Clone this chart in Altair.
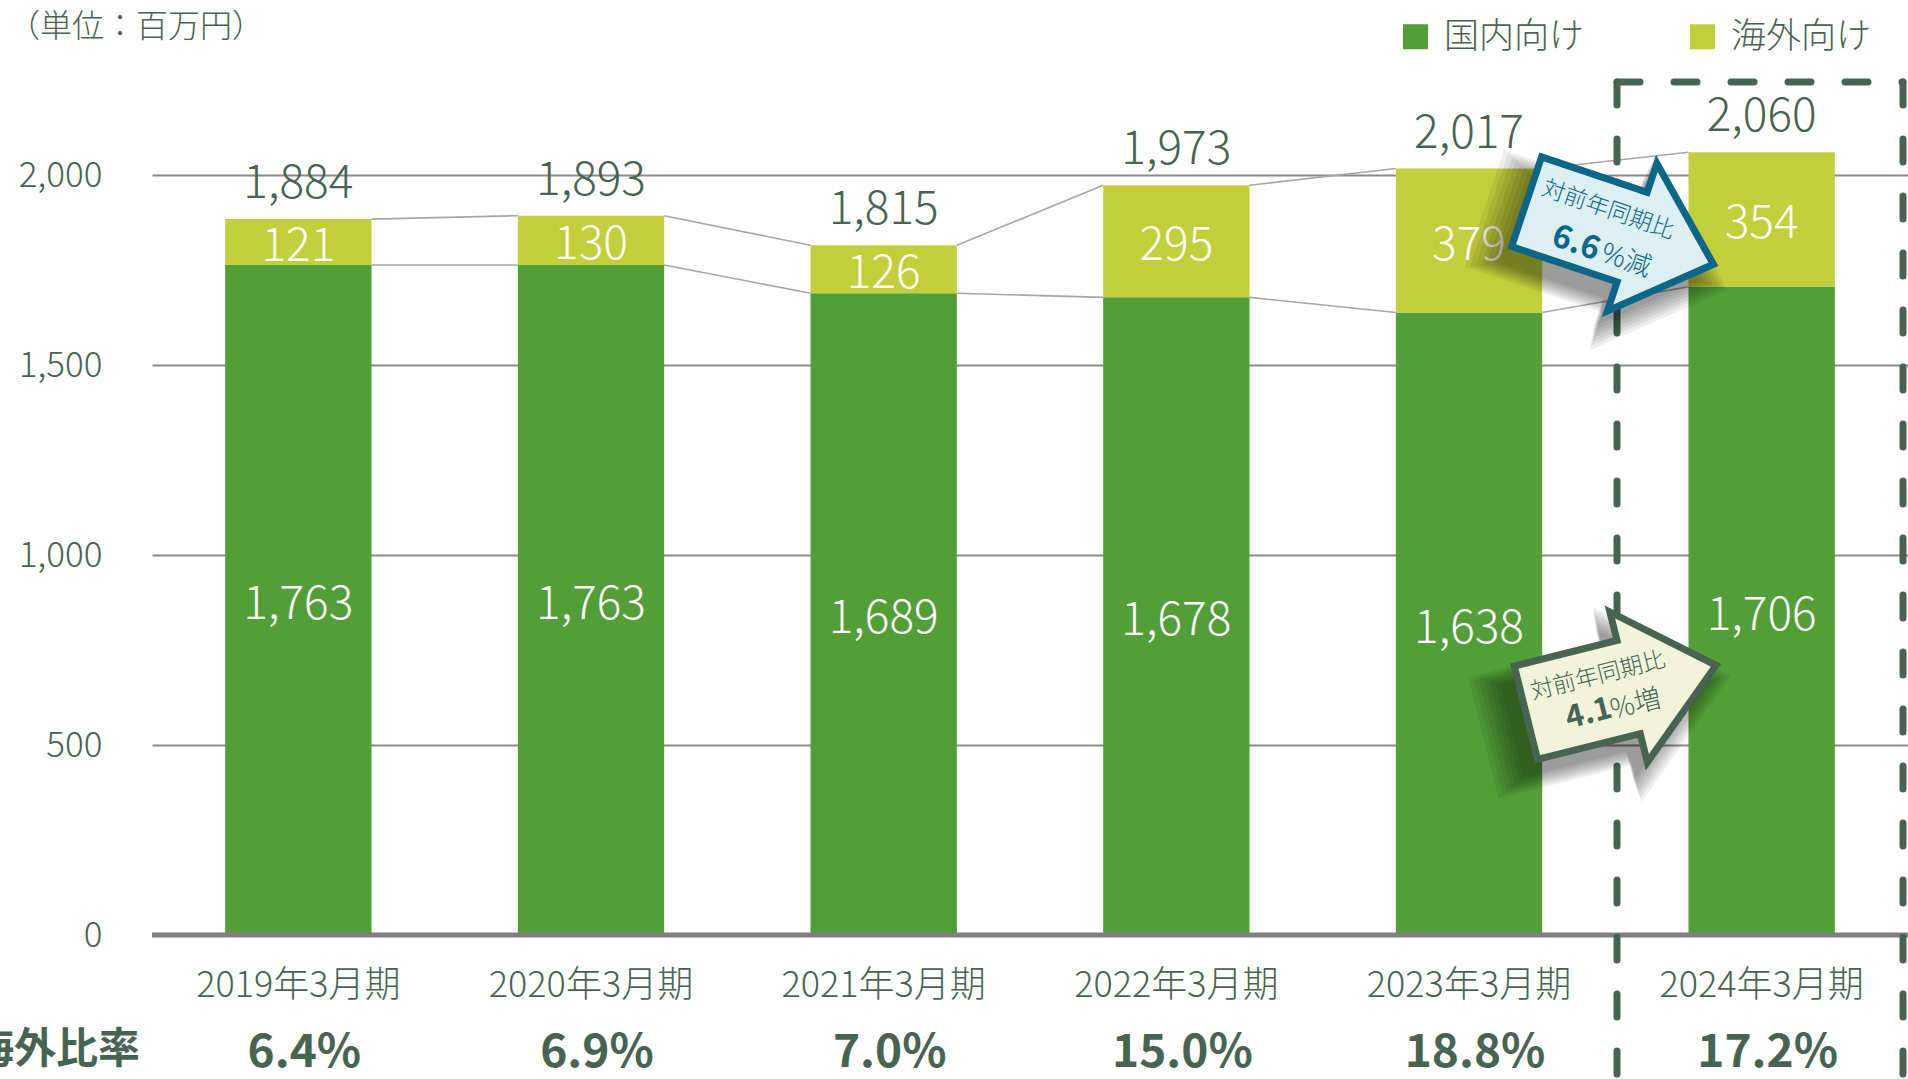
import altair as alt
import pandas as pd

# ---------------- data ----------------
periods = ["2019年3月期", "2020年3月期", "2021年3月期", "2022年3月期", "2023年3月期", "2024年3月期"]
domestic = [1763, 1763, 1689, 1678, 1638, 1706]
overseas = [121, 130, 126, 295, 379, 354]
totals = [1884, 1893, 1815, 1973, 2017, 2060]
ratios = ["6.4%", "6.9%", "7.0%", "15.0%", "18.8%", "17.2%"]
series_names = ["国内向け", "海外向け"]
series_colors = ["#529E37", "#C2CF3A"]
y_ticks = [0, 500, 1000, 1500, 2000]

unit_label = "（単位：百万円）"
ratio_title = "海外比率"
callout_down = ["対前年同期比", "6.6", "%減"]
callout_up = ["対前年同期比", "4.1", "%増"]

# ---------------- layout / style ----------------
FONT = "Noto Sans CJK JP"
TXT = "#476452"
LIGHT = 300
W, H = 1756, 912
PL, PT = 152, 23

long_rows = []
for i, p in enumerate(periods):
    long_rows.append({"period": p, "series": series_names[0], "value": domestic[i], "ord": 0})
    long_rows.append({"period": p, "series": series_names[1], "value": overseas[i], "ord": 1})
long_df = pd.DataFrame(long_rows)
wide_df = pd.DataFrame({"period": periods, "total": totals, "domestic": domestic, "ratio": ratios})
conn_df = pd.DataFrame({
    "period": periods[:-1], "next": periods[1:],
    "t0": totals[:-1], "t1": totals[1:],
    "d0": domestic[:-1], "d1": domestic[1:],
})
one = pd.DataFrame({"k": [0]})

x_scale = alt.Scale(domain=periods, paddingInner=0.5, paddingOuter=0.25)
x_axis = alt.Axis(title=None, labelAngle=0, labelFontSize=36, labelColor=TXT, labelFont=FONT,
                  labelFontWeight=LIGHT, labelLimit=0,
                  labelPadding=33, ticks=False, tickSize=0, domain=False, grid=False)
y_scale = alt.Scale(domain=[0, 2400], nice=False)
y_axis = alt.Axis(title=None, values=y_ticks, labelExpr="format(datum.value, ',')",
                  labelFontSize=35, labelColor=TXT, labelFontWeight=LIGHT,
                  labelFont=FONT, labelPadding=50, ticks=False, tickSize=0, domain=False,
                  grid=True, gridColor="#8a8a8a", gridWidth=2)


def X(field="period", **kw):
    return alt.X(f"{field}:N", scale=x_scale, axis=x_axis, **kw)


def Y(field):
    return alt.Y(f"{field}:Q", scale=y_scale, axis=y_axis)


stacked = alt.Chart(long_df).transform_stack(
    stack="value", groupby=["period"], as_=["y0", "y1"],
    sort=[alt.SortField("ord", order="ascending")],
)

bars = stacked.mark_bar().encode(
    x=X(),
    y=Y("y1"),
    y2=alt.Y2("y0:Q"),
    color=alt.Color(
        "series:N",
        scale=alt.Scale(domain=series_names, range=series_colors),
        legend=alt.Legend(orient="none", legendX=1246, legendY=-4, direction="horizontal",
                          title=None, symbolType="square", symbolSize=625, symbolStrokeWidth=0,
                          labelFontSize=35, labelColor=TXT, labelFont=FONT, labelOffset=11,
                          labelFontWeight=LIGHT,
                          columnPadding=100, padding=0, labelLimit=0),
    ),
    order=alt.Order("ord:Q"),
)

seg_labels = stacked.transform_calculate(mid="(datum.y0 + datum.y1) / 2").mark_text(
    color="white", fontSize=46, font=FONT, fontWeight=LIGHT, baseline="middle", dy=5
).encode(x=X(), y=Y("mid"), text=alt.Text("value:Q", format=","))

tot_labels = alt.Chart(wide_df).mark_text(
    color=TXT, fontSize=46, font=FONT, fontWeight=LIGHT, baseline="alphabetic", dy=-21
).encode(x=X(), y=Y("total"), text=alt.Text("total:Q", format=","))

conn_style = dict(color="#a6a6a6", strokeWidth=1.6)
conn_tot = alt.Chart(conn_df).mark_rule(**conn_style).encode(
    x=X(bandPosition=1), x2=alt.X2("next:N", bandPosition=0), y=Y("t0"), y2=alt.Y2("t1:Q"))
conn_dom = alt.Chart(conn_df).mark_rule(**conn_style).encode(
    x=X(bandPosition=1), x2=alt.X2("next:N", bandPosition=0), y=Y("d0"), y2=alt.Y2("d1:Q"))

zero = alt.Chart(one).mark_rule(color="#808080", strokeWidth=5).encode(
    y=alt.YDatum(0, scale=y_scale, axis=y_axis), x=alt.value(0), x2=alt.value(W))

pct = alt.Chart(wide_df).mark_text(
    color=TXT, fontSize=46, fontWeight="bold", font=FONT, baseline="middle", dx=6
).encode(x=X(), y=alt.value(1053 - PT), text="ratio:N")

title_txt = alt.Chart(one).mark_text(
    text=unit_label, color=TXT, fontSize=32, font=FONT, fontWeight=LIGHT, align="left",
    baseline="middle"
).encode(x=alt.value(8 - PL), y=alt.value(27 - PT))

ratio_txt = alt.Chart(one).mark_text(
    text=ratio_title, color=TXT, fontSize=42, fontWeight="bold", font=FONT, align="right",
    baseline="middle"
).encode(x=alt.value(140 - PL), y=alt.value(1050 - PT))

dash = dict(color=TXT, strokeWidth=7, strokeDash=[23, 34], strokeCap="round")
box_left = alt.Chart(one).mark_rule(**dash).encode(
    x=alt.value(1617 - PL), y=alt.value(82 - PT), y2=alt.value(1110 - PT))
box_top = alt.Chart(one).mark_rule(**dash).encode(
    x=alt.value(1617 - PL), x2=alt.value(1903 - PL), y=alt.value(82 - PT))
box_right = alt.Chart(one).mark_rule(**dash).encode(
    x=alt.value(1903 - PL), y=alt.value(82 - PT), y2=alt.value(1110 - PT))


def arrow_path(head_x, body_hw, head_hw):
    return (f"M -1 {-body_hw} L {head_x} {-body_hw} L {head_x} {-head_hw} L 1 0 "
            f"L {head_x} {head_hw} L {head_x} {body_hw} L -1 {body_hw} Z")


def arrow_layers(cx, cy, length, angle, path, fill, stroke, sdx, sdy):
    layers = []
    for k in range(7):
        s = (length * (1 + 0.05 * k)) ** 2
        layers.append(alt.Chart(one).mark_point(
            shape=path, filled=True, fill="black", opacity=0.065, strokeWidth=0,
            size=s, angle=angle
        ).encode(x=alt.value(cx - PL + sdx), y=alt.value(cy - PT + sdy)))
    layers.append(alt.Chart(one).mark_point(
        shape=path, filled=True, fill=fill, stroke=stroke, strokeWidth=7, strokeJoin="miter",
        opacity=1, size=length ** 2, angle=angle
    ).encode(x=alt.value(cx - PL), y=alt.value(cy - PT)))
    return layers


def txt(text, x, y, size, color, angle, bold=False):
    kw = dict(text=text, color=color, fontSize=size, font=FONT, align="center",
              baseline="middle", angle=angle, fontWeight="bold" if bold else LIGHT)
    return alt.Chart(one).mark_text(**kw).encode(x=alt.value(x - PL), y=alt.value(y - PT))


BLUE, BLUE_FILL = "#0C6688", "#DCEFF3"
GRN_FILL = "#F1F3DB"

down_arrow = arrow_layers(1620, 233, 197, 18.5, arrow_path(0.13, 0.48, 0.79),
                          BLUE_FILL, BLUE, -14, 16)
up_arrow = arrow_layers(1621, 689, 196, 346, arrow_path(0.08, 0.49, 0.79),
                        GRN_FILL, TXT, -14, 18)

down_text = [
    txt(callout_down[0], 1608, 210, 23, BLUE, 19),
    txt(callout_down[1], 1576, 243, 32, BLUE, 19, bold=True),
    txt(callout_down[2], 1626, 261, 27, BLUE, 19),
]
up_text = [
    txt(callout_up[0], 1598, 676, 23, TXT, 346),
    txt(callout_up[1], 1589, 714, 31, TXT, 346, bold=True),
    txt(callout_up[2], 1636, 705, 27, TXT, 346),
]

chart = alt.layer(
    bars, zero, conn_tot, conn_dom, seg_labels, tot_labels, pct, title_txt, ratio_txt,
    box_left, box_top, box_right,
    *down_arrow, *up_arrow, *down_text, *up_text,
).properties(
    width=W, height=H,
    padding={"left": PL, "top": PT, "right": 0, "bottom": 1079 - PT - H},
    autosize=alt.AutoSizeParams(type="none"),
    background="white",
).configure(font=FONT).configure_view(stroke=None)

chart.save("out.html", embed_options={"renderer": "svg", "actions": False})
